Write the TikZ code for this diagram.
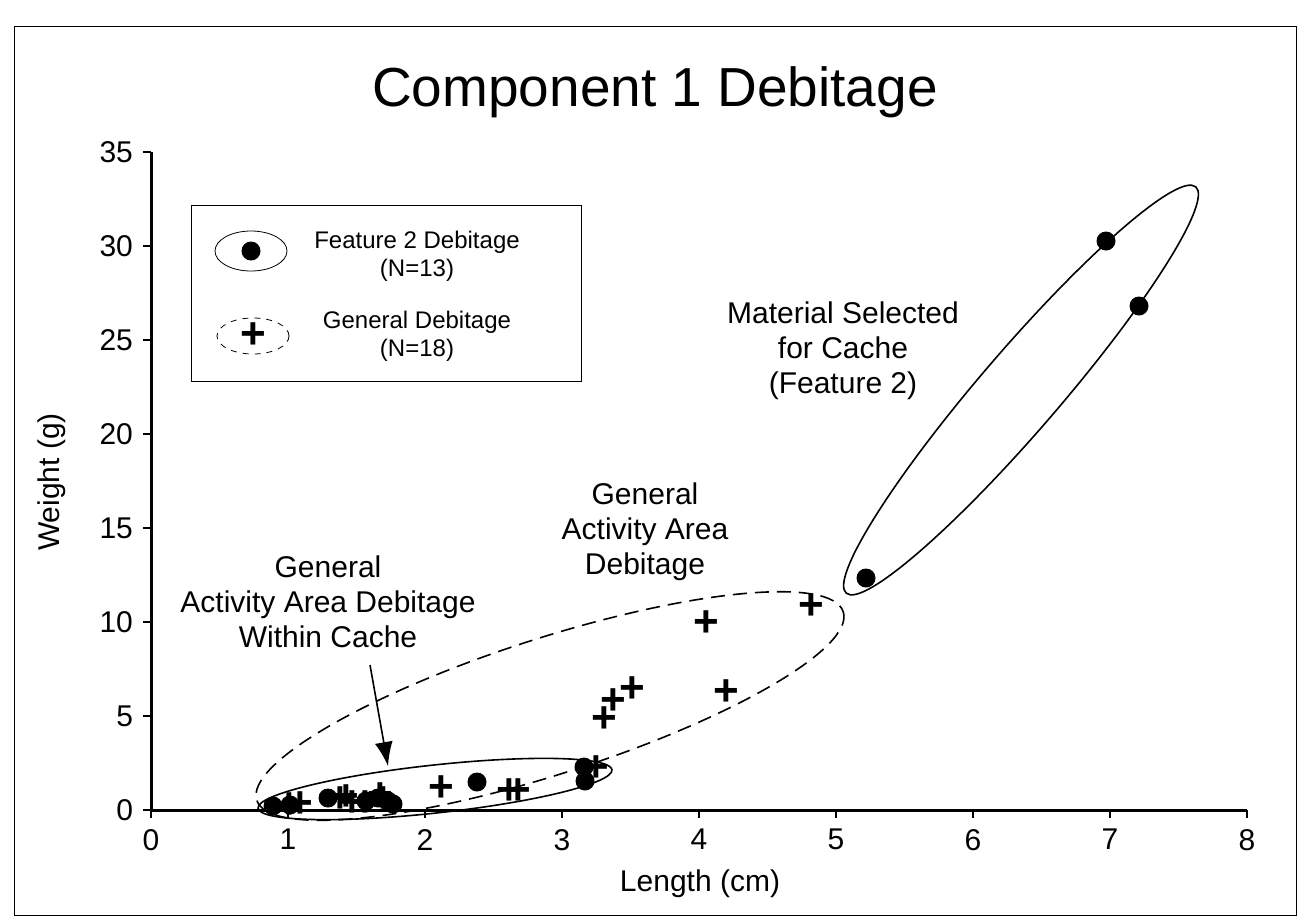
\documentclass[tikz,border=0pt]{standalone}
\usetikzlibrary{arrows.meta}
\usepackage{fontspec}
\setmainfont{Liberation Sans}
\begin{document}
\begin{tikzpicture}[x=0.5pt,y=-0.5pt,
  dot/.style={circle,fill=black,inner sep=0pt,minimum size=9.5pt},
  plus/.style={font=\fontsize{22}{22}\selectfont\bfseries,inner sep=0pt},
  tick/.style={font=\fontsize{15}{15}\selectfont},
  note/.style={font=\fontsize{15}{17.5}\selectfont,align=center},
  leg/.style={font=\fontsize{12}{14}\selectfont,align=center},
  longdash/.style={dash pattern=on 7pt off 4pt}]
\useasboundingbox (0,0) rectangle (1311,922);
\draw[thin] (14,26) rectangle (1296,915);
\node[font=\fontsize{27.5}{27.5}\selectfont] (title) at (655,92) {Component 1 Debitage};
% axes
\draw[line width=1.5pt] (151,152) -- (151,810) -- (1247,810);
\foreach \v [count=\i from 0] in {0,5,...,35}{
  \draw[thick] (143,{810-\i*94}) -- (151,{810-\i*94});
  \node[tick,anchor=east] (yl\i) at (140,{810-\i*94}) {\v};}
\foreach \v in {0,...,8}{
  \draw[thick] ({151+\v*137},810) -- ({151+\v*137},818);
  \node[tick,anchor=north] (xl\v) at ({151+\v*137},822) {\v};}
\node[tick] (xt) at (700,884) {Length (cm)};
\node[tick,rotate=90] (yt) at (52,482) {Weight (g)};
% legend
\draw (191,205) rectangle (581,381);
\draw (251,251) ellipse [x radius=36,y radius=20];
\node[dot] (ld) at (251,251) {};
\node[leg] (lt1) at (417,256) {Feature 2 Debitage\\(N=13)};
\draw[dashed] (253,336) ellipse [x radius=36,y radius=18];
\node[plus] (lp) at (253,336) {+};
\node[leg] (lt2) at (417,336) {General Debitage\\(N=18)};
% ellipses
\draw[thick] (1021,390) ellipse [x radius=268,y radius=40,rotate=49.3];
\draw[longdash,thick] (550,706) ellipse [x radius=308,y radius=68,rotate=17.8];
\draw[thick] (435,789) ellipse [x radius=178,y radius=24,rotate=6.2];
% points
\foreach \p [count=\k] in {(273,806),(290,805),(328,798),(366,801),(378,798),(388,801),(393,804),(477,782),(584,767),(585,781),(866,578),(1106,241),(1139,306)}
  \node[dot] (d\k) at \p {};
\foreach \p [count=\k] in {(289,806),(300,805),(340,800),(346,798),(352,804),(365,804),(380,796),(383,800),(441,789),(509,792),(518,792),(596,769),(604,720),(613,702),(632,690),(706,624),(726,693),(811,607)}
  \node[plus] (p\k) at \p {+};
% notes
\node[note] (n1) at (843,351) {Material Selected\\for Cache\\(Feature 2)};
\node[note] (n2) at (645,532) {General\\Activity Area\\Debitage};
\node[note] (n3) at (328,602) {General\\Activity Area Debitage\\Within Cache};
\coordinate (a1) at (370,665);
\coordinate (a2) at (388,766);
\draw[thick,-{Latex[length=12pt,width=9pt]}] (a1) -- (a2);
\end{tikzpicture}
\end{document}
